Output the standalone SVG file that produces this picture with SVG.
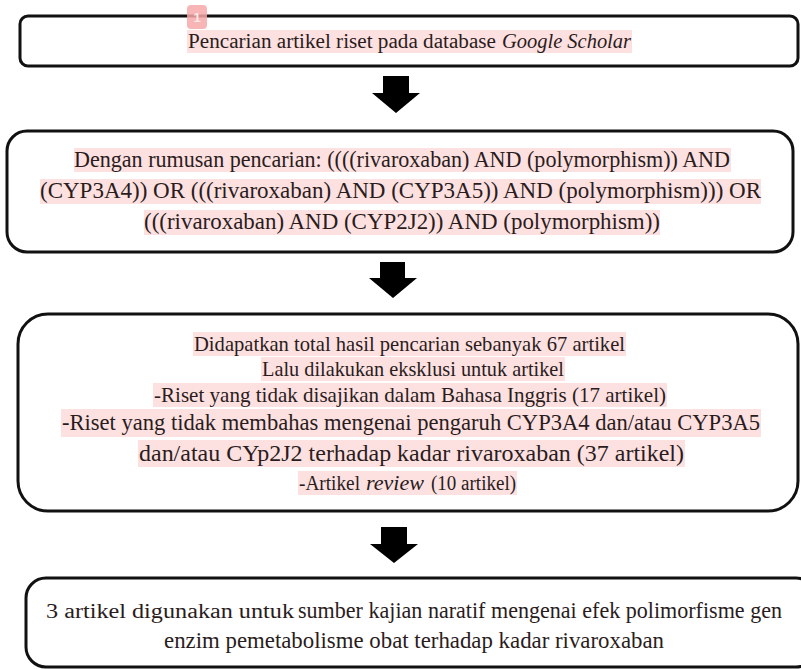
<svg xmlns="http://www.w3.org/2000/svg" width="801" height="669" viewBox="0 0 801 669">
<style>
.box{fill:#fff;stroke:#111;stroke-width:3}
.hl{fill:#fde1e1}
.t{font-family:"Liberation Serif","Times New Roman",serif;fill:#2a1c1c}
.it{font-style:italic}
.arr{fill:#000}
</style>
<rect width="801" height="669" fill="#fff"/>
<g id="node1">
<rect class="box" x="20" y="16" width="778" height="50" rx="8"/>
<rect class="hl" x="187" y="30" width="445" height="23"/>
<text class="t" y="48" font-size="20.5"><tspan x="188" textLength="308" lengthAdjust="spacingAndGlyphs">Pencarian artikel riset pada database</tspan><tspan class="it" x="502" textLength="129" lengthAdjust="spacingAndGlyphs">Google Scholar</tspan></text>
<rect x="187" y="5" width="20" height="24" rx="4" fill="#f7a8a8" opacity="0.85"/>
<text x="197" y="22" font-size="13" text-anchor="middle" font-family="Liberation Sans, Arial, sans-serif" fill="#fde8e8" font-weight="bold">1</text>
</g>
<g id="node2">
<rect class="box" x="7" y="131" width="786" height="121" rx="20"/>
<rect class="hl" x="74" y="148" width="657" height="24"/>
<rect class="hl" x="40" y="179" width="721" height="25"/>
<rect class="hl" x="144" y="210" width="516" height="25"/>
<text class="t" font-size="23"><tspan x="74" y="167" textLength="656" lengthAdjust="spacingAndGlyphs">Dengan rumusan pencarian: ((((rivaroxaban) AND (polymorphism)) AND</tspan><tspan x="40" y="198" textLength="721" lengthAdjust="spacingAndGlyphs">(CYP3A4)) OR (((rivaroxaban) AND (CYP3A5)) AND (polymorphism)))  OR</tspan><tspan x="144" y="229" textLength="516" lengthAdjust="spacingAndGlyphs">(((rivaroxaban) AND (CYP2J2)) AND (polymorphism))</tspan></text>
</g>
<g id="node3">
<rect class="box" x="18" y="314" width="780" height="197" rx="30"/>
<rect class="hl" x="193" y="332" width="433" height="24"/>
<rect class="hl" x="261" y="357" width="304" height="24"/>
<rect class="hl" x="153" y="383" width="514" height="24"/>
<rect class="hl" x="61" y="409" width="700" height="28"/>
<rect class="hl" x="138" y="440" width="547" height="27"/>
<rect class="hl" x="298" y="471" width="219" height="24"/>
<text class="t" font-size="21"><tspan x="194" y="351" textLength="431" lengthAdjust="spacingAndGlyphs">Didapatkan total hasil pencarian sebanyak 67 artikel</tspan><tspan x="262" y="376" textLength="302" lengthAdjust="spacingAndGlyphs">Lalu dilakukan eksklusi untuk artikel</tspan><tspan x="154" y="402" textLength="512" lengthAdjust="spacingAndGlyphs">-Riset yang tidak disajikan dalam Bahasa Inggris (17 artikel)</tspan></text>
<text class="t" font-size="23.5"><tspan x="62" y="430" textLength="698" lengthAdjust="spacingAndGlyphs">-Riset yang tidak membahas mengenai pengaruh CYP3A4 dan/atau CYP3A5</tspan><tspan x="139" y="461" textLength="545" lengthAdjust="spacingAndGlyphs">dan/atau  CYp2J2 terhadap  kadar  rivaroxaban  (37  artikel)</tspan></text>
<text class="t" font-size="20.5" y="490"><tspan x="299" textLength="61" lengthAdjust="spacingAndGlyphs">-Artikel</tspan><tspan class="it" x="366" textLength="58" lengthAdjust="spacingAndGlyphs">review</tspan><tspan x="431" textLength="85" lengthAdjust="spacingAndGlyphs">(10 artikel)</tspan></text>
</g>
<g id="node4">
<rect class="box" x="26" y="578" width="790" height="89" rx="20"/>
<text class="t" y="618"><tspan x="46" font-size="20.5" textLength="248" lengthAdjust="spacingAndGlyphs">3 artikel digunakan untuk</tspan><tspan x="298" font-size="23" textLength="484" lengthAdjust="spacingAndGlyphs">sumber kajian naratif mengenai efek polimorfisme gen</tspan></text>
<text class="t" x="164" y="648" font-size="23" textLength="500" lengthAdjust="spacingAndGlyphs">enzim pemetabolisme obat terhadap kadar rivaroxaban</text>
</g>
<g id="connectors">
<polygon class="arr" points="383,76 409,76 409,93 420,93 396,113 372,93 383,93"/>
<polygon class="arr" points="380,262 405,262 405,278 417,278 393,298 369,278 380,278"/>
<polygon class="arr" points="381,527 407,527 407,544 418,544 394,563 370,544 381,544"/>
</g>
</svg>
